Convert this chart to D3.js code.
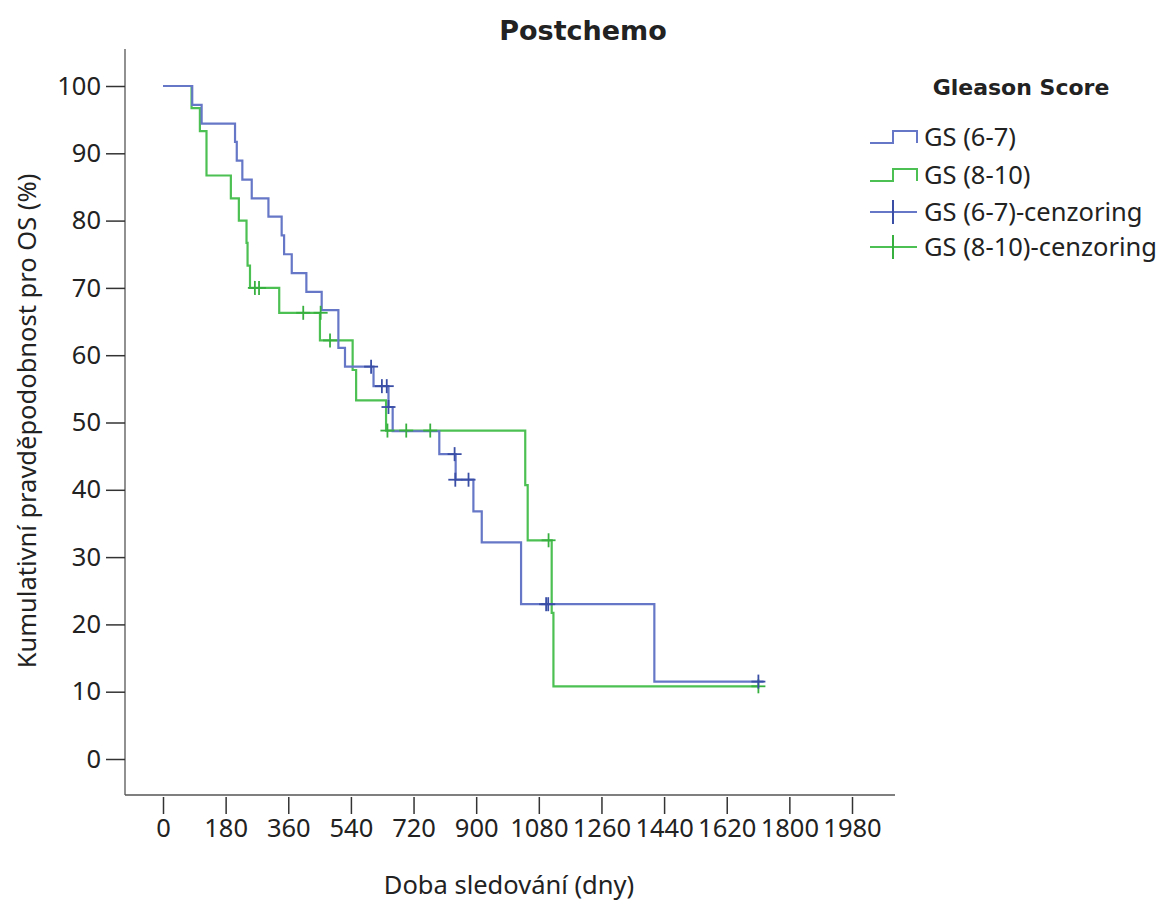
<!DOCTYPE html>
<html>
<head>
<meta charset="utf-8">
<script src="https://cdn.jsdelivr.net/npm/d3@7"></script>
<style>
  html, body { margin: 0; padding: 0; background: #fff; }
  svg { display: block; }
  text { font-family: "Noto Sans", "Open Sans", sans-serif; fill: #222; }
</style>
</head>
<body>
<svg id="chart" width="1176" height="903"></svg>
<script>
// Kaplan–Meier survival (OS) after chemotherapy, by Gleason score group
const groups = ["GS (6-7)", "GS (8-10)"];
const censorLabels = ["GS (6-7)-cenzoring", "GS (8-10)-cenzoring"];

// Event times (days) and survival (%) after each drop
const gs67Times = [0, 84, 111, 207, 212, 228, 255, 303, 341, 348, 370, 412, 456, 504, 523, 605, 648, 660, 794, 841, 892, 916, 1029, 1029, 1412];
const gs67Surv  = [100, 97.2, 94.4, 91.7, 88.9, 86.1, 83.3, 80.6, 77.8, 75.0, 72.2, 69.4, 66.7, 61.1, 58.3, 55.4, 52.3, 48.7, 45.3, 41.5, 36.8, 32.2, 27.6, 23.0, 11.5];
const gs67End = 1726;

const gs810Times = [0, 82, 106, 125, 125, 195, 218, 240, 243, 250, 334, 451, 545, 555, 641, 1041, 1048, 1117, 1122];
const gs810Surv  = [100, 96.7, 93.3, 90.0, 86.7, 83.3, 80.0, 76.7, 73.3, 70.0, 66.3, 62.2, 57.8, 53.3, 48.8, 40.7, 32.5, 21.7, 10.8];
const gs810End = 1711;

// Censored observations (day, survival %)
const gs67CensTimes = [598, 629, 643, 648, 838, 840, 878, 1101, 1107, 1711];
const gs67CensSurv  = [58.3, 55.4, 55.4, 52.3, 45.3, 41.5, 41.5, 23.0, 23.0, 11.5];
const gs810CensTimes = [264, 276, 403, 453, 480, 645, 699, 768, 1108, 1711];
const gs810CensSurv  = [70.0, 70.0, 66.3, 66.3, 62.2, 48.8, 48.8, 48.8, 32.5, 10.8];

const xTicks = [0, 180, 360, 540, 720, 900, 1080, 1260, 1440, 1620, 1800, 1980];
const yTicks = [0, 10, 20, 30, 40, 50, 60, 70, 80, 90, 100];

const lineColors = ["#6577c6", "#4cc052"];
const censColors = ["#3a4ea6", "#38b040"];

const svg = d3.select("#chart");

const x = d3.scaleLinear().domain([0, 1980]).range([163, 852]);
const y = d3.scaleLinear().domain([0, 100]).range([759, 86]);

const frame = { left: 125, right: 895, top: 49, bottom: 795 };
const labelSize = 25.5;

// axis lines
svg.append("line")
  .attr("x1", frame.left).attr("x2", frame.left)
  .attr("y1", frame.top).attr("y2", frame.bottom)
  .attr("stroke", "#555").attr("stroke-width", 1.3);
svg.append("line")
  .attr("x1", frame.left).attr("x2", frame.right)
  .attr("y1", frame.bottom).attr("y2", frame.bottom)
  .attr("stroke", "#555").attr("stroke-width", 1.3);

// y axis
const yAxis = svg.append("g")
  .attr("transform", `translate(${frame.left},0)`)
  .call(d3.axisLeft(y).tickValues(yTicks).tickSize(19).tickPadding(5).tickFormat(d3.format("d")));
yAxis.select(".domain").remove();
yAxis.selectAll(".tick line").attr("stroke", "#333").attr("stroke-width", 1.5);
yAxis.selectAll(".tick text").attr("font-size", labelSize).attr("fill", "#222")
  .style("font-family", "'Noto Sans', sans-serif");

// x axis
const xAxis = svg.append("g")
  .attr("transform", `translate(0,${frame.bottom + 2})`)
  .call(d3.axisBottom(x).tickValues(xTicks).tickSize(17).tickPadding(5).tickFormat(d3.format("d")));
xAxis.select(".domain").remove();
xAxis.selectAll(".tick line").attr("stroke", "#333").attr("stroke-width", 1.5);
xAxis.selectAll(".tick text").attr("font-size", labelSize).attr("fill", "#222")
  .style("font-family", "'Noto Sans', sans-serif");

// titles
svg.append("text").attr("x", 583).attr("y", 40).attr("text-anchor", "middle")
  .attr("font-size", 27).attr("font-weight", "bold").style("font-family", "'DejaVu Sans', sans-serif")
  .text("Postchemo");
svg.append("text").attr("x", 509).attr("y", 894).attr("text-anchor", "middle")
  .attr("font-size", labelSize).text("Doba sledování (dny)");
svg.append("text").attr("transform", "translate(36,421) rotate(-90)").attr("text-anchor", "middle")
  .attr("font-size", labelSize).text("Kumulativní pravděpodobnost pro OS (%)");

// step curves
function stepPoints(times, surv, end) {
  const pts = times.map((t, i) => [t, surv[i]]);
  pts.push([end, surv[surv.length - 1]]);
  return pts;
}
const line = d3.line().x(d => x(d[0])).y(d => y(d[1])).curve(d3.curveStepAfter);

const series = [
  { pts: stepPoints(gs67Times, gs67Surv, gs67End), cens: gs67CensTimes.map((t, i) => [t, gs67CensSurv[i]]) },
  { pts: stepPoints(gs810Times, gs810Surv, gs810End), cens: gs810CensTimes.map((t, i) => [t, gs810CensSurv[i]]) }
];

// draw green first so blue lies on top where curves overlap at start
[1, 0].forEach(k => {
  svg.append("path").datum(series[k].pts)
    .attr("d", line).attr("fill", "none")
    .attr("stroke", lineColors[k]).attr("stroke-width", 2.2);
});

const cs = 7;
[1, 0].forEach(k => {
  const g = svg.append("g").attr("stroke", censColors[k]).attr("stroke-width", 1.8);
  g.selectAll("line.h").data(series[k].cens).join("line")
    .attr("x1", d => x(d[0]) - cs).attr("x2", d => x(d[0]) + cs)
    .attr("y1", d => y(d[1])).attr("y2", d => y(d[1]));
  g.selectAll("line.v").data(series[k].cens).join("line")
    .attr("x1", d => x(d[0])).attr("x2", d => x(d[0]))
    .attr("y1", d => y(d[1]) - cs).attr("y2", d => y(d[1]) + cs);
});

// legend
const lg = svg.append("g");
lg.append("text").attr("x", 1021).attr("y", 95).attr("text-anchor", "middle")
  .attr("font-size", 22).attr("font-weight", "bold").style("font-family", "'DejaVu Sans', sans-serif")
  .text("Gleason Score");
const rows = [137, 175, 212, 247];
const labels = [groups[0], groups[1], censorLabels[0], censorLabels[1]];
rows.forEach((ry, i) => {
  if (i < 2) {
    lg.append("path")
      .attr("d", `M870,${ry + 6}H893V${ry - 6}H917V${ry + 6}`)
      .attr("fill", "none").attr("stroke", lineColors[i]).attr("stroke-width", 2);
  } else {
    const c = censColors[i - 2];
    lg.append("line").attr("x1", 870).attr("x2", 917).attr("y1", ry).attr("y2", ry)
      .attr("stroke", lineColors[i - 2]).attr("stroke-width", 2);
    lg.append("line").attr("x1", 893).attr("x2", 893).attr("y1", ry - 12).attr("y2", ry + 12)
      .attr("stroke", c).attr("stroke-width", 2);
  }
  lg.append("text").attr("x", 924).attr("y", ry + 9).attr("font-size", labelSize).text(labels[i]);
});
</script>
</body>
</html>
